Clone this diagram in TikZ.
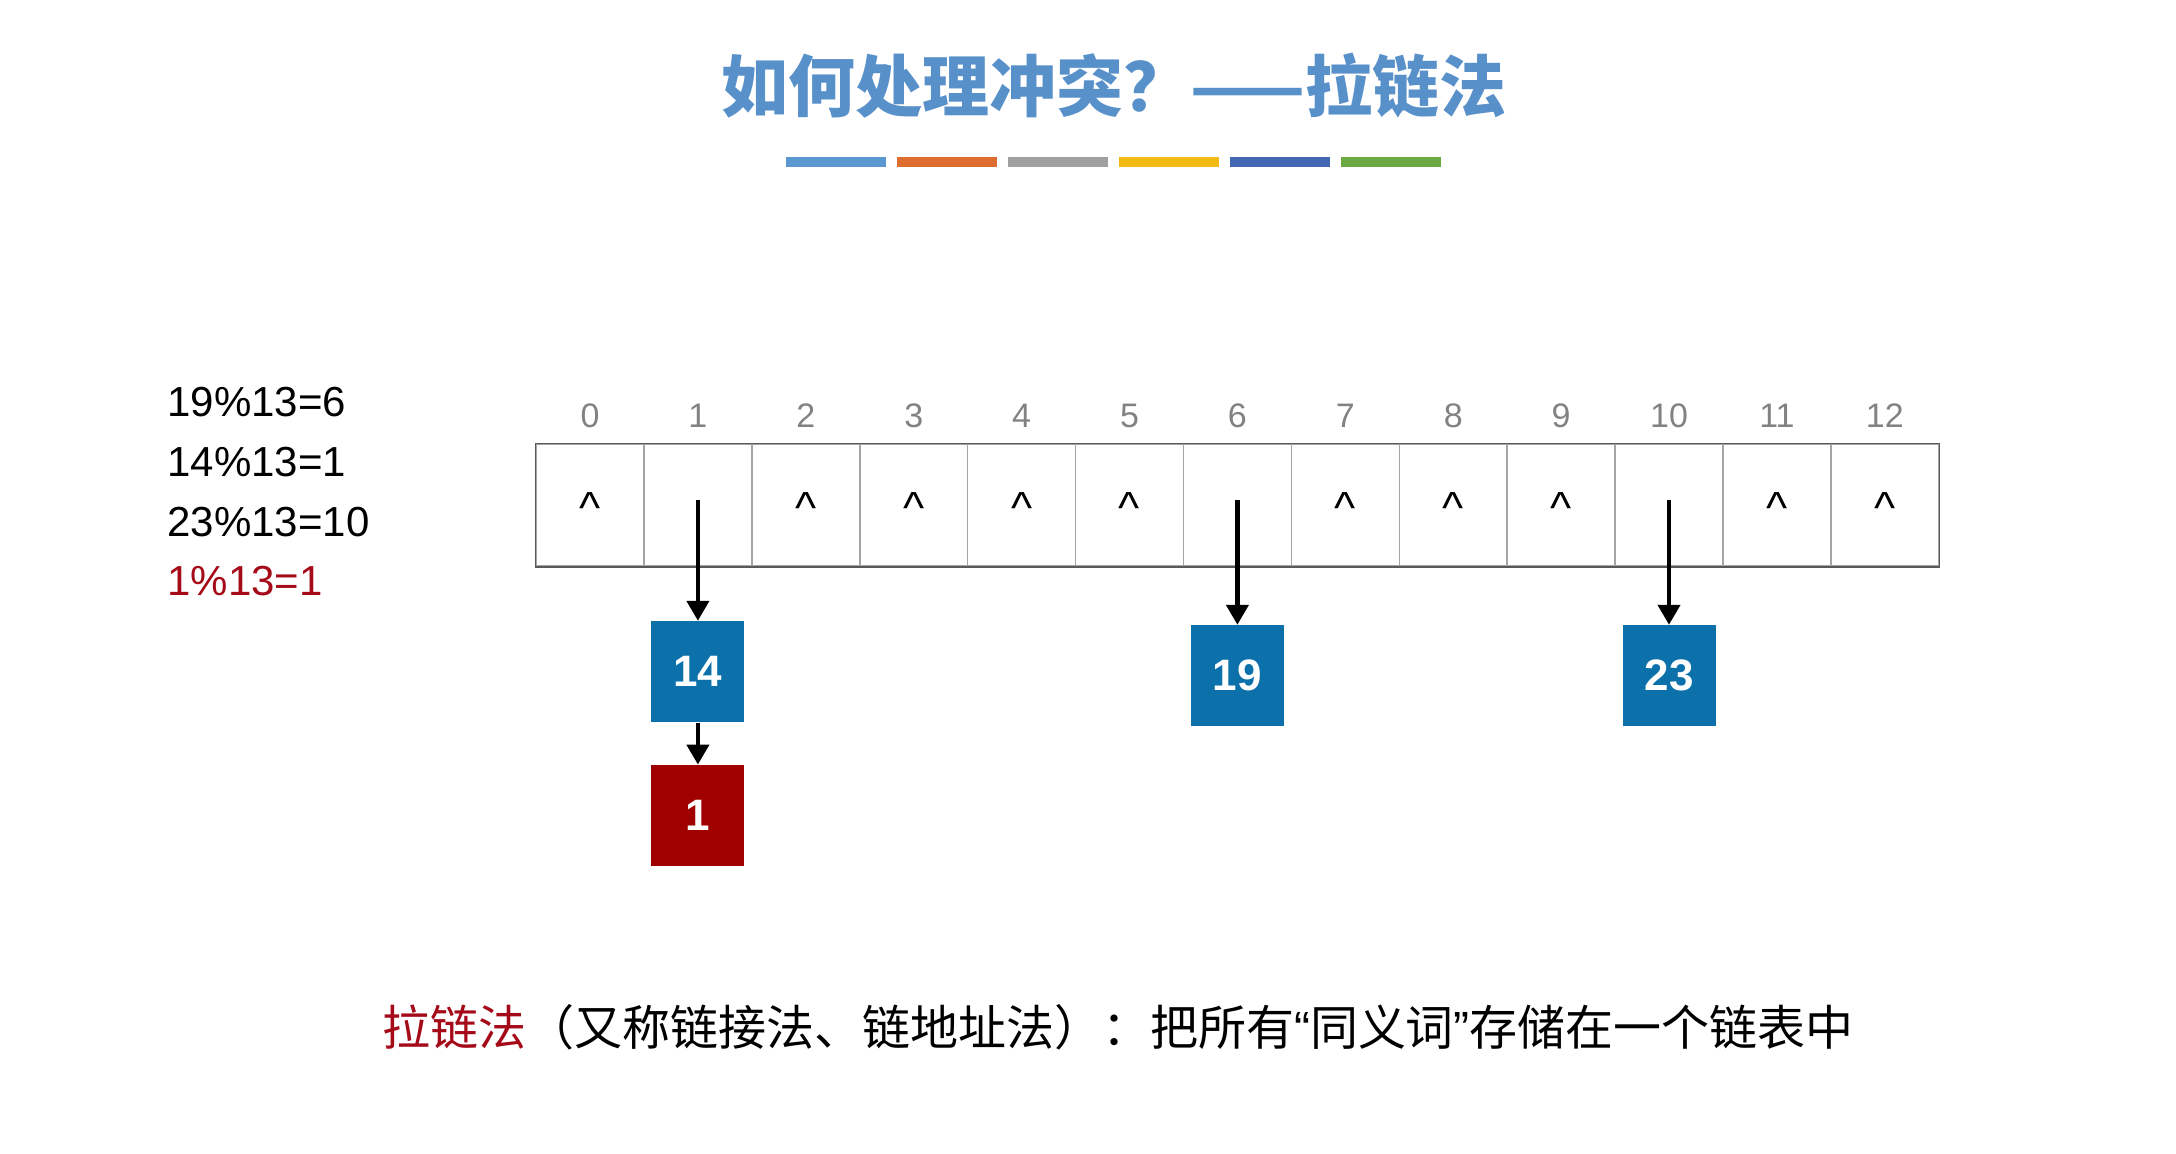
\documentclass[tikz,border=0pt]{standalone}
\usepackage{xcolor}
\usepackage{fontspec}
\usepackage{tikz}
\setmainfont{Liberation Sans}
\newfontfamily\cjk{Noto Sans CJK SC}
\usetikzlibrary{arrows.meta}
\usetikzlibrary{positioning}
\definecolor{titleblue}{RGB}{88,144,202}
\definecolor{boxblue}{RGB}{12,112,170}
\definecolor{boxred}{RGB}{160,0,0}
\definecolor{chainred}{RGB}{165,10,25}
\definecolor{idxgray}{RGB}{130,130,130}
\definecolor{linegray}{RGB}{165,165,165}
\definecolor{bara}{RGB}{91,152,208}
\definecolor{barb}{RGB}{221,110,48}
\definecolor{barc}{RGB}{160,160,160}
\definecolor{bard}{RGB}{243,186,20}
\definecolor{bare}{RGB}{68,103,180}
\definecolor{barf}{RGB}{107,170,65}
\tikzstyle{every node}=[inner sep=0pt]
\tikzstyle{cell}=[draw=linegray, line width=0.75pt, minimum width=53.95pt, minimum height=61pt]
\tikzstyle{idx}=[font=\fontsize{17}{20}\selectfont, text=idxgray]
\tikzstyle{nil}=[font=\fontsize{22.5}{26}\selectfont, yshift=-1.5pt]
\tikzstyle{eq}=[anchor=west, font=\fontsize{21}{25}\selectfont]
\tikzstyle{key}=[minimum width=46.5pt, minimum height=50.5pt, text=white, font=\fontsize{22}{26}\selectfont\bfseries]
\tikzstyle{link}=[line width=2.2pt, -{Triangle[width=11pt,length=10pt]}]

\begin{document}
\begin{tikzpicture}[x=0.5pt, y=-0.5pt]
            \useasboundingbox (0,0) rectangle (2176,1153);
            \node[font=\cjk\bfseries\fontsize{33.5}{37}\selectfont, text=titleblue] (title) at (1114,86) {如何处理冲突？——拉链法};
            \foreach \c [count=\k from 0] in {bara,barb,barc,bard,bare,barf}
                \fill[\c] ({786+111*\k},157) rectangle ++(100,10);
            \node[eq] (e1) at (167,402) {19\%13=6};
            \node[eq] (e2) at (167,462) {14\%13=1};
            \node[eq] (e3) at (167,522) {23\%13=10};
            \node[eq, text=chainred] (e4) at (167,581) {1\%13=1};
            \foreach \i in {0,...,12} {
                \node[cell] (c\i) at ({590+107.9*\i},505) {};
                \node[idx] (n\i) at ({590+107.9*\i},416) {\i};
            }
            \draw[line width=0.75pt, black!65] (c0.south west) rectangle (c12.north east);
            \foreach \i in {0,2,3,4,5,7,8,9,11,12}
                \node[nil] at (c\i) {\textasciicircum};
            \node[key, fill=boxblue, below=27pt of c1] (k14) {14};
            \node[key, fill=boxred, below=21pt of k14] (k1) {1};
            \node[key, fill=boxblue, below=29pt of c6] (k19) {19};
            \node[key, fill=boxblue, below=29pt of c10] (k23) {23};
            \draw[link] ([yshift=2.5pt]c1.center) -- (k14.north);
            \draw[link] (k14.south) -- (k1.north);
            \draw[link] ([yshift=2.5pt]c6.center) -- (k19.north);
            \draw[link] ([yshift=2.5pt]c10.center) -- (k23.north);
            \node[font=\cjk\fontsize{24}{28}\selectfont] (note) at (1118,1027) {{\color{chainred}拉链法}（又称链接法、链地址法）：把所有{\rmfamily “}同义词{\rmfamily ”}存储在一个链表中};
        \end{tikzpicture}
\end{document}
